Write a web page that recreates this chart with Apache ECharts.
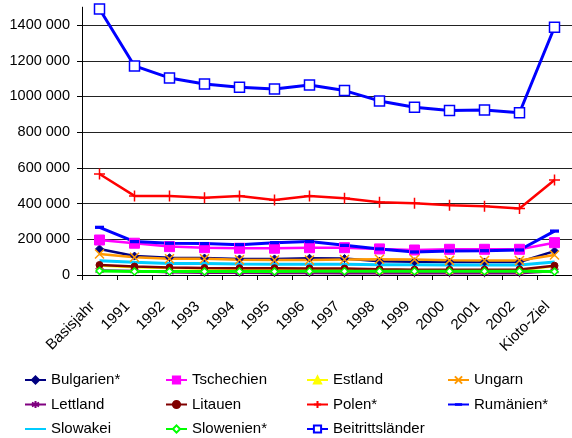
<!DOCTYPE html>
<html>
<head>
<meta charset="utf-8">
<script src="https://cdn.jsdelivr.net/npm/echarts@6/dist/echarts.min.js"></script>
<style>html,body{margin:0;padding:0;background:#fff;}#c{width:572px;height:438px;}</style>
</head>
<body>
<div id="c"></div>
<script>
const categories = ['Basisjahr','1991','1992','1993','1994','1995','1996','1997','1998','1999','2000','2001','2002','Kioto-Ziel'];
const yTicks = [0, 200000, 400000, 600000, 800000, 1000000, 1200000, 1400000];

const bulgarien = [146000, 106000, 97000, 95000, 90000, 90000, 94000, 92000, 77000, 74000, 73000, 73000, 73000, 134000];
const tschechien = [196000, 178000, 159000, 153000, 150000, 150000, 153000, 153000, 146000, 140000, 144000, 144000, 144000, 181000];
const estland = [53000, 44000, 39000, 36000, 35000, 35000, 34000, 33000, 29000, 27000, 26000, 27000, 28000, 49000];
const ungarn = [118000, 99000, 91000, 91000, 85000, 84000, 84000, 87000, 88000, 87000, 82000, 81000, 81000, 112000];
const lettland = [25000, 22000, 16000, 13000, 12000, 11000, 11000, 10000, 10000, 10000, 10000, 10000, 10000, 23000];
const litauen = [56000, 47000, 42000, 39000, 38000, 38000, 37000, 36000, 32000, 30000, 29000, 30000, 31000, 52000];
const polen = [566000, 443000, 443000, 433000, 443000, 420000, 443000, 430000, 407000, 402000, 390000, 385000, 372000, 532000];
const rumaenien = [267000, 187000, 178000, 176000, 170000, 181000, 187000, 166000, 146000, 129000, 134000, 136000, 140000, 246000];
const slowakei = [80000, 71000, 65000, 65000, 61000, 60000, 60000, 60000, 58000, 57000, 56000, 56000, 56000, 73000];
const slowenien = [23000, 20000, 20000, 20000, 20000, 20000, 21000, 21000, 21000, 21000, 21000, 21000, 21000, 19000];
const beitritt = [1490000, 1171000, 1104000, 1070000, 1052000, 1042000, 1064000, 1033000, 975000, 940000, 921000, 924000, 909000, 1388000];

const FONT = 'Liberation Sans, Arial, sans-serif';
const PLUS = 'path://M5,0L5,10M0,5L10,5';
const CROSS = 'path://M0,0L10,10M10,0L0,10';
const STAR = 'path://M5,0L5,10M0.7,2.5L9.3,7.5M9.3,2.5L0.7,7.5';
const DASH = 'path://M0,0L0,0M0,3.2L10,3.2L10,6.8L0,6.8ZM10,10L10,10';
const NOTHING = 'path://M0,0L0.01,0M10,10L9.99,10';

function line(name, data, color, opts) {
  opts = opts || {};
  return {
    name: name, type: 'line', data: data,
    symbol: opts.symbol || NOTHING,
    symbolSize: opts.size || 7,
    showSymbol: opts.symbol ? true : false,
    lineStyle: { color: color, width: opts.width || 2.5 },
    itemStyle: {
      color: opts.fill || color,
      borderColor: color,
      borderWidth: opts.bw != null ? opts.bw : 1
    },
    emphasis: { disabled: true },
    animation: false,
    z: opts.z || 2
  };
}

function legendCol(left, names) {
  return {
    orient: 'vertical', top: 372.5, left: left, padding: 0,
    itemWidth: 21, itemHeight: 9, itemGap: 9.5,
    lineStyle: { width: 2 },
    textStyle: { fontFamily: FONT, fontSize: 15, color: '#000', lineHeight: 15 },
    selectedMode: false,
    data: names
  };
}

const option = {
  backgroundColor: '#fff',
  animation: false,
  grid: { left: 82, right: 0, top: 7.2, bottom: 163, outerBoundsMode: 'none', containLabel: false },
  legend: [
    legendCol(24, ['Bulgarien*', 'Lettland', 'Slowakei']),
    legendCol(165, ['Tschechien', 'Litauen', 'Slowenien*']),
    legendCol(306, ['Estland', 'Polen*', 'Beitrittsländer']),
    legendCol(447, ['Ungarn', 'Rumänien*'])
  ],
  xAxis: {
    type: 'category', data: categories, boundaryGap: true,
    axisLine: { lineStyle: { color: '#000', width: 1 } },
    axisTick: { show: true, length: 5, lineStyle: { color: '#000' } },
    axisLabel: { rotate: 45, margin: 22, padding: [0, 10, 0, 0], fontFamily: FONT, fontSize: 15, color: '#000', interval: 0 },
    splitLine: { show: false }
  },
  yAxis: {
    type: 'value', min: 0, max: 1500000, interval: 200000,
    axisLine: { show: true, lineStyle: { color: '#000', width: 1 } },
    axisTick: { show: true, length: 5, lineStyle: { color: '#000' } },
    axisLabel: {
      margin: 12, fontFamily: FONT, fontSize: 14.5, color: '#000', showMaxLabel: false,
      formatter: function (v) {
        if (yTicks.indexOf(v) < 0) return '';
        return v === 0 ? '0' : Math.round(v / 1000) + ' 000';
      }
    },
    splitLine: { show: true, lineStyle: { color: ['#222', '#222', '#222', '#222', '#222', '#222', '#222', '#222', 'rgba(0,0,0,0)'], width: 1 } }
  },
  series: [
    line('Bulgarien*', bulgarien, '#000080', { symbol: 'diamond', size: 8 }),
    line('Tschechien', tschechien, '#FF00FF', { symbol: 'rect', size: 10 }),
    line('Estland', estland, '#FFFF00', { symbol: 'triangle', size: 7 }),
    line('Ungarn', ungarn, '#FF9900', { symbol: CROSS, size: 9, bw: 1.5 }),
    line('Lettland', lettland, '#800080', { symbol: STAR, size: 8, bw: 1.2 }),
    line('Litauen', litauen, '#800000', { symbol: 'circle', size: 7 }),
    line('Polen*', polen, '#FF0000', { symbol: PLUS, size: 11, bw: 1.5 }),
    line('Rumänien*', rumaenien, '#0000FF', { symbol: DASH, size: 9, bw: 0, width: 3 }),
    line('Slowakei', slowakei, '#00CCFF', { width: 3, bw: 0 }),
    line('Slowenien*', slowenien, '#00FF00', { symbol: 'diamond', size: 7, fill: '#fff', bw: 1.5, width: 3 }),
    line('Beitrittsländer', beitritt, '#0000FF', { symbol: 'rect', size: 10, fill: '#fff', bw: 1.5, width: 3, z: 3 })
  ]
};

const chart = echarts.init(document.getElementById('c'), null, { renderer: 'canvas' });
chart.setOption(option);
</script>
</body>
</html>
